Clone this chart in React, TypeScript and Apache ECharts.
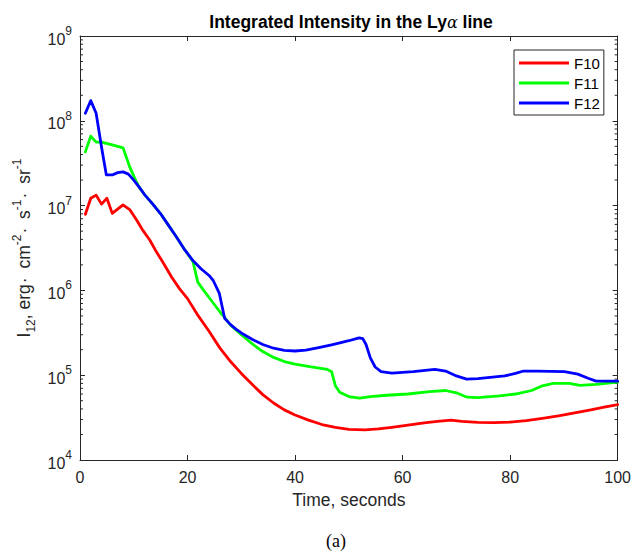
import React, { useEffect, useRef } from "react";
import * as echarts from "echarts";

const timeF10 = [1, 2, 3, 4, 5, 6, 8, 9.3, 10.5, 11.7, 13, 14, 15.5, 17, 18.5, 20, 22, 24, 26, 28, 30, 32, 34, 36, 38, 40, 42.5, 45, 47.5, 50, 53, 55.5, 58, 61, 64, 66.5, 69, 71, 74, 77, 80, 83, 86, 89, 92, 95, 97.5, 100];
const valuesF10 = [7.9e6, 1.22e7, 1.33e7, 1.04e7, 1.22e7, 8.1e6, 1.02e7, 8.9e6, 6.8e6, 5.1e6, 3.9e6, 3.0e6, 2.1e6, 1.45e6, 1.05e6, 8.0e5, 5.0e5, 3.3e5, 2.1e5, 1.45e5, 1.05e5, 7.8e4, 5.9e4, 4.7e4, 3.9e4, 3.4e4, 2.95e4, 2.62e4, 2.42e4, 2.3e4, 2.27e4, 2.33e4, 2.43e4, 2.58e4, 2.74e4, 2.85e4, 2.95e4, 2.85e4, 2.78e4, 2.76e4, 2.8e4, 2.92e4, 3.1e4, 3.32e4, 3.6e4, 3.9e4, 4.2e4, 4.5e4];

const timeF11 = [1, 2, 3, 4, 6, 8, 9.3, 10.5, 11, 12, 13.5, 15, 16.5, 18, 19.5, 21, 21.9, 23, 24.5, 26, 27, 28, 30, 32, 34, 36, 38, 40, 43, 46, 46.8, 47.5, 48.3, 50, 52, 54, 57, 61, 65, 68, 70, 72, 74, 78, 81, 84, 86, 88, 91, 93, 96, 100];
const valuesF11 = [4.3e7, 6.6e7, 5.6e7, 5.6e7, 5.2e7, 4.8e7, 2.8e7, 1.9e7, 1.65e7, 1.35e7, 1.05e7, 8.0e6, 5.8e6, 4.2e6, 3.0e6, 2.2e6, 1.25e6, 1.0e6, 7.5e5, 5.6e5, 4.7e5, 3.9e5, 3.0e5, 2.35e5, 1.9e5, 1.62e5, 1.45e5, 1.35e5, 1.25e5, 1.17e5, 1.1e5, 7.5e4, 6.3e4, 5.6e4, 5.35e4, 5.6e4, 5.8e4, 6.0e4, 6.4e4, 6.6e4, 6.2e4, 5.5e4, 5.45e4, 5.7e4, 6.0e4, 6.6e4, 7.5e4, 8.0e4, 8.0e4, 7.6e4, 7.8e4, 8.3e4];

const timeF12 = [1, 2, 3, 4, 4.9, 6, 7, 8, 9, 10, 11, 12, 13.5, 15, 16.5, 18, 19.5, 21, 22.5, 24, 24.8, 25.9, 26.9, 28, 29, 30, 32, 34, 36, 38, 40, 42, 44.4, 47, 50, 51.9, 52.6, 53.2, 54, 54.9, 56, 58, 62, 66, 68, 70, 71.9, 74, 79, 81, 82.5, 85, 90.1, 92.6, 94.5, 96, 100];
const valuesF12 = [1.23e8, 1.73e8, 1.23e8, 4.9e7, 2.3e7, 2.3e7, 2.45e7, 2.5e7, 2.35e7, 2.0e7, 1.65e7, 1.35e7, 1.05e7, 8.0e6, 5.8e6, 4.2e6, 3.0e6, 2.25e6, 1.8e6, 1.5e6, 1.3e6, 9.3e5, 4.7e5, 3.95e5, 3.5e5, 3.15e5, 2.65e5, 2.3e5, 2.08e5, 1.96e5, 1.93e5, 1.98e5, 2.12e5, 2.3e5, 2.55e5, 2.76e5, 2.7e5, 2.3e5, 1.6e5, 1.25e5, 1.1e5, 1.06e5, 1.1e5, 1.17e5, 1.12e5, 9.8e4, 9.0e4, 9.1e4, 9.8e4, 1.05e5, 1.12e5, 1.12e5, 1.1e5, 1.03e5, 9.2e4, 8.5e4, 8.5e4];

const seriesNames = ["F10", "F11", "F12"];
const seriesColors = ["#ff0000", "#00ff00", "#0000ff"];
const xTicks = [0, 20, 40, 60, 80, 100];
const yDecades = [4, 5, 6, 7, 8, 9];
const minorMultipliers = [2, 3, 4, 5, 6, 7, 8, 9];

const FONT = "'Liberation Sans', Arial, Helvetica, sans-serif";
const AX = "#262626";

function pairs(t: number[], v: number[]) {
  return t.map((x, i) => [x, v[i]]);
}

export default function App() {
  const ref = useRef<HTMLDivElement>(null);
  useEffect(() => {
    if (!ref.current) return;
    const chart = echarts.init(ref.current, undefined, { renderer: "svg" });
    const yMin = Math.pow(10, yDecades[0]);
    const yMax = Math.pow(10, yDecades[yDecades.length - 1]);
    const minorVals: number[][] = [];
    for (let i = 0; i < yDecades.length - 1; i++) {
      for (const m of minorMultipliers) minorVals.push([0, m * Math.pow(10, yDecades[i])]);
    }
    const datas = [pairs(timeF10, valuesF10), pairs(timeF11, valuesF11), pairs(timeF12, valuesF12)];
    const lineSeries = seriesNames.map((n, i) => ({
      name: n,
      type: "line",
      data: datas[i],
      showSymbol: false,
      smooth: false,
      lineStyle: { width: 2.8, color: seriesColors[i], join: "round", cap: "round" },
      itemStyle: { color: seriesColors[i] },
      xAxisIndex: 0,
      yAxisIndex: 0,
      z: 3,
    }));
    const option: any = {
      animation: false,
      backgroundColor: "#ffffff",
      grid: { left: 80, right: 14, top: 36, bottom: 93, containLabel: false },
      graphic: [
        {
          type: "text",
          x: 351,
          y: 22,
          style: {
            text: "Integrated Intensity in the Ly{a|α} line",
            font: `bold 17.5px ${FONT}`,
            fill: "#000",
            align: "center",
            verticalAlign: "middle",
            rich: {
              a: { fontFamily: "'DejaVu Serif', 'Liberation Serif', serif", fontStyle: "italic", fontWeight: "normal", fontSize: 16, fill: "#000" },
            },
          },
        },
        {
          type: "text",
          x: 336,
          y: 541,
          style: {
            text: "(a)",
            font: `18px 'Liberation Serif', 'Times New Roman', serif`,
            fill: "#000",
            align: "center",
            verticalAlign: "middle",
          },
        },
      ],
      legend: {
        data: seriesNames,
        orient: "vertical",
        left: 514,
        top: 50,
        icon: "rect",
        itemWidth: 50,
        itemHeight: 3,
        itemGap: 4,
        padding: [5, 4, 4, 5],
        borderColor: AX,
        borderWidth: 1,
        backgroundColor: "#fff",
        borderRadius: 0,
        textStyle: { fontFamily: FONT, fontSize: 15, color: "#000", lineHeight: 16 },
      },
      xAxis: [
        {
          type: "value",
          min: 0,
          max: 100,
          interval: 20,
          name: "Time, seconds",
          nameLocation: "middle",
          nameGap: 31,
          nameTextStyle: { fontFamily: FONT, fontSize: 17.5, color: AX },
          axisLine: { show: true, lineStyle: { color: AX, width: 1 } },
          axisTick: { show: true, inside: true, length: 5, lineStyle: { color: AX } },
          axisLabel: { fontFamily: FONT, fontSize: 16, color: AX, margin: 9, customValues: xTicks },
          splitLine: { show: false },
        },
        {
          type: "value",
          position: "top",
          min: 0,
          max: 100,
          interval: 20,
          axisLine: { show: true, onZero: false, lineStyle: { color: AX, width: 1 } },
          axisTick: { show: true, inside: true, length: 5, lineStyle: { color: AX } },
          axisLabel: { show: false },
          splitLine: { show: false },
        },
      ],
      yAxis: [
        {
          type: "log",
          logBase: 10,
          min: yMin,
          max: yMax,
          name: "I{sub|12}, erg{d|·} cm{sup|-2}{d|·} s{sup|-1}{d|·} sr{sup|-1}",
          nameLocation: "middle",
          nameRotate: 90,
          nameGap: 42,
          nameTextStyle: {
            fontFamily: FONT,
            fontSize: 17.5,
            color: AX,
            lineHeight: 26,
            rich: {
              sub: { fontFamily: FONT, fontSize: 12, color: AX, verticalAlign: "bottom", lineHeight: 14 },
              sup: { fontFamily: FONT, fontSize: 12, color: AX, verticalAlign: "top", lineHeight: 14 },
              d: { fontFamily: FONT, fontSize: 17.5, color: AX, padding: [0, 4, 0, 1] },
            },
          },
          axisLine: { show: true, lineStyle: { color: AX, width: 1 } },
          axisTick: { show: true, inside: true, length: 5, lineStyle: { color: AX } },
          axisLabel: {
            fontFamily: FONT,
            fontSize: 16,
            color: AX,
            margin: 8,
            formatter: (v: number) => `{b|10}{s|${Math.round(Math.log10(v))}}`,
            rich: {
              b: { fontFamily: FONT, fontSize: 16, color: AX, lineHeight: 22, verticalAlign: "bottom" },
              s: { fontFamily: FONT, fontSize: 12, color: AX, lineHeight: 14, verticalAlign: "top" },
            },
          },
          splitLine: { show: false },
        },
        {
          type: "log",
          logBase: 10,
          min: yMin,
          max: yMax,
          position: "right",
          axisLine: { show: true, onZero: false, lineStyle: { color: AX, width: 1 } },
          axisTick: { show: true, inside: true, length: 5, lineStyle: { color: AX } },
          axisLabel: { show: false },
          splitLine: { show: false },
        },
      ],
      series: [
        ...lineSeries,
        {
          type: "custom",
          name: "minorTicks",
          silent: true,
          clip: false,
          xAxisIndex: 0,
          yAxisIndex: 0,
          data: minorVals,
          z: 1,
          renderItem: (params: any, api: any) => {
            const cs = params.coordSys;
            const y = api.coord([0, api.value(1)])[1];
            const st = { stroke: AX, lineWidth: 1 };
            return {
              type: "group",
              children: [
                { type: "line", shape: { x1: cs.x, y1: y, x2: cs.x + 3, y2: y }, style: st },
                { type: "line", shape: { x1: cs.x + cs.width, y1: y, x2: cs.x + cs.width - 3, y2: y }, style: st },
              ],
            };
          },
        },
      ],
    };
    chart.setOption(option);
    return () => chart.dispose();
  }, []);
  return <div ref={ref} style={{ width: 634, height: 553, position: "absolute", left: 0, top: 0 }} />;
}
